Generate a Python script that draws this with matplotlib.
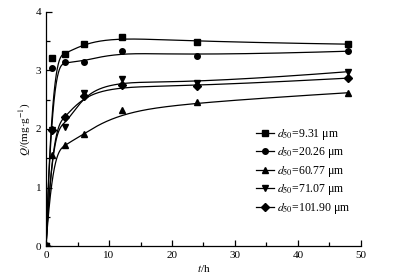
import numpy as np
import matplotlib
matplotlib.use("Agg")
import matplotlib.pyplot as plt
from matplotlib.ticker import MultipleLocator

plt.rcParams['font.family'] = ['Liberation Serif', 'DejaVu Serif']
plt.rcParams['mathtext.fontset'] = 'stix'

t = [0, 1, 3, 6, 12, 24, 48]
q_931 = [0, 3.21, 3.28, 3.46, 3.58, 3.49, 3.45]
q_2026 = [0, 3.04, 3.15, 3.15, 3.34, 3.25, 3.33]
q_6077 = [0, 1.56, 1.73, 1.91, 2.32, 2.46, 2.62]
q_7107 = [0, 1.98, 2.03, 2.61, 2.85, 2.78, 2.98]
q_10190 = [0, 1.99, 2.20, 2.57, 2.75, 2.73, 2.87]

labels = [r'$d_{50}$=9.31 μm', r'$d_{50}$=20.26 μm', r'$d_{50}$=60.77 μm',
          r'$d_{50}$=71.07 μm', r'$d_{50}$=101.90 μm']
series = [q_931, q_2026, q_6077, q_7107, q_10190]
markers = ['s', 'o', '^', 'v', 'D']
msizes = [4, 4, 4.5, 4.5, 3.8]


def bspline(px, py, num=600, deg=3):
    """Clamped cubic B-spline using the data points as control points."""
    P = np.column_stack([px, py]).astype(float)
    n = len(P)
    inner = np.arange(1, n - deg)
    knots = np.concatenate([np.zeros(deg + 1), inner, np.full(deg + 1, n - deg)]).astype(float)
    us = np.linspace(0, n - deg, num)
    us[-1] -= 1e-9
    pts = []
    for u in us:
        N = np.zeros(len(knots) - 1)
        for i in range(len(knots) - 1):
            if knots[i] <= u < knots[i + 1]:
                N[i] = 1.0
        for d in range(1, deg + 1):
            Nn = np.zeros(len(knots) - 1 - d)
            for i in range(len(Nn)):
                a = 0.0
                if knots[i + d] != knots[i]:
                    a = (u - knots[i]) / (knots[i + d] - knots[i]) * N[i]
                b = 0.0
                if knots[i + d + 1] != knots[i + 1]:
                    b = (knots[i + d + 1] - u) / (knots[i + d + 1] - knots[i + 1]) * N[i + 1]
                Nn[i] = a + b
            N = Nn
        pts.append(N[:n] @ P)
    pts = np.array(pts)
    return pts[:, 0], pts[:, 1]


fig = plt.figure(figsize=(3.98, 2.77), dpi=100)
ax = fig.add_axes([0.1156, 0.1119, 0.7914, 0.8448])

for q, mk, ms, lab in zip(series, markers, msizes, labels):
    cx, cy = bspline(t, q)
    ax.plot(cx, cy, color='black', lw=0.9)
    ax.plot(t, q, linestyle='none', marker=mk, ms=ms, color='black')
    ax.plot([], [], color='black', lw=0.9, marker=mk, ms=ms, label=lab)

ax.set_xlim(0, 50)
ax.set_ylim(0, 4)
ax.xaxis.set_major_locator(MultipleLocator(10))
ax.xaxis.set_minor_locator(MultipleLocator(5))
ax.yaxis.set_major_locator(MultipleLocator(1))
ax.yaxis.set_minor_locator(MultipleLocator(0.5))
ax.tick_params(which='both', direction='in', labelsize=8, width=0.9)
ax.tick_params(which='major', length=4.5)
ax.tick_params(which='minor', length=3)
for s in ['top', 'right']:
    ax.spines[s].set_visible(False)
for s in ['left', 'bottom']:
    ax.spines[s].set_linewidth(0.9)

ax.set_xlabel(r'$t$/h', fontsize=8, labelpad=2.5)
ax.set_ylabel(r'$Q$/(mg·g$^{-1}$)', fontsize=8, labelpad=2)

ax.legend(loc='upper left', bbox_to_anchor=(0.648, 0.535), frameon=False,
          fontsize=8.5, handlelength=1.5, handletextpad=0.3, labelspacing=0.3,
          borderpad=0)

fig.savefig('out.png', dpi=100)
